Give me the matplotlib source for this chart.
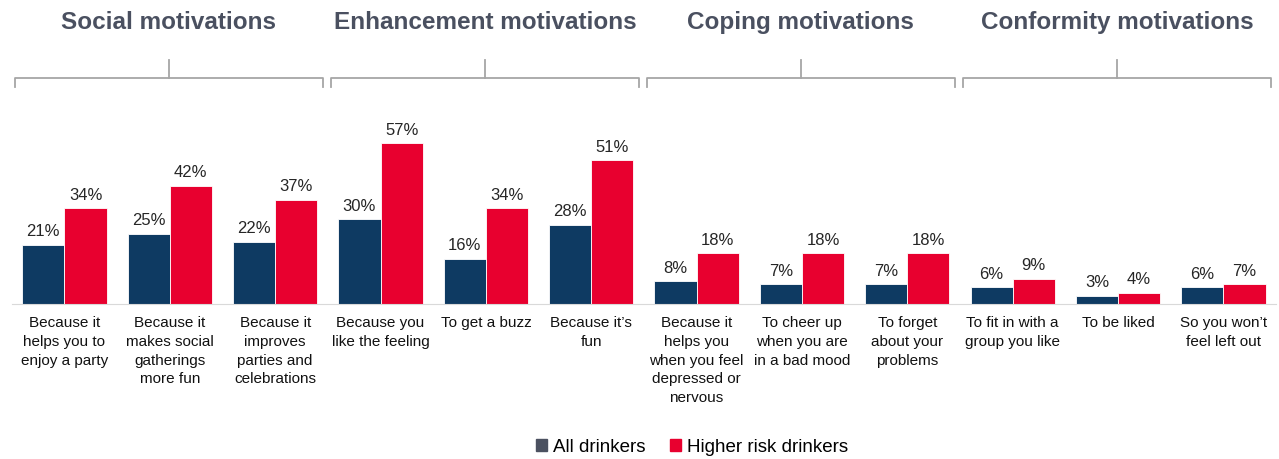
import matplotlib.pyplot as plt
import numpy as np
from matplotlib.patches import Patch
from matplotlib.transforms import blended_transform_factory

plt.rcParams['font.family'] = ['Liberation Sans', 'DejaVu Sans']

groups = ['Social motivations', 'Enhancement motivations',
          'Coping motivations', 'Conformity motivations']
labels = [
    'Because it\nhelps you to\nenjoy a party',
    'Because it\nmakes social\ngatherings\nmore fun',
    'Because it\nimproves\nparties and\ncelebrations',
    'Because you\nlike the feeling',
    'To get a buzz',
    'Because it\u2019s\nfun',
    'Because it\nhelps you\nwhen you feel\ndepressed or\nnervous',
    'To cheer up\nwhen you are\nin a bad mood',
    'To forget\nabout your\nproblems',
    'To fit in with a\ngroup you like',
    'To be liked',
    'So you won\u2019t\nfeel left out',
]
all_drinkers = [21, 25, 22, 30, 16, 28, 8, 7, 7, 6, 3, 6]
higher_risk = [34, 42, 37, 57, 34, 51, 18, 18, 18, 9, 4, 7]

NAVY = '#0e3a62'
RED = '#e8002f'
GREY_TXT = '#4a5060'

fig = plt.figure(figsize=(12.79, 4.59), dpi=100)
ax = fig.add_axes([0.0092, 0.3377, 0.9885, 0.3686])

x = np.arange(len(labels))
w = 0.40
b1 = ax.bar(x - w / 2, all_drinkers, w, color=NAVY, edgecolor='white', linewidth=0.6)
b2 = ax.bar(x + w / 2, higher_risk, w, color=RED, edgecolor='white', linewidth=0.6)

for bars in (b1, b2):
    for r in bars:
        ax.annotate(f'{int(r.get_height())}%',
                    (r.get_x() + r.get_width() / 2, r.get_height()),
                    xytext=(0, 4), textcoords='offset points',
                    ha='center', va='bottom', fontsize=12, color='#262626')

ax.set_xlim(-0.5, len(labels) - 0.5)
ax.set_ylim(0, 60)
ax.set_yticks([])
ax.set_xticks(x)
ax.set_xticklabels(labels, fontsize=11, linespacing=1.42, color='#111111')
ax.tick_params(axis='x', length=0, pad=9)
for s in ('top', 'right', 'left'):
    ax.spines[s].set_visible(False)
ax.spines['bottom'].set_color('#d9d9d9')

# group brackets and titles
tr = blended_transform_factory(ax.transData, fig.transFigure)
y_line, y_end, y_top, y_title = 0.830, 0.810, 0.869, 0.950
for i, g in enumerate(groups):
    x0, x1 = 3 * i - 0.47, 3 * i + 2.45
    xc = (x0 + x1) / 2
    ax.plot([x0, x0, x1, x1], [y_end, y_line, y_line, y_end], transform=tr,
            color='#a6a6a6', lw=1.3, clip_on=False, solid_joinstyle='round')
    ax.plot([xc, xc], [y_line, y_top], transform=tr, color='#a6a6a6', lw=1.3,
            clip_on=False)
    ax.text(xc, y_title, g, transform=tr, ha='center', va='center',
            fontsize=17.5, fontweight='bold', color=GREY_TXT)

handles = [Patch(color='#4b5160', label='All drinkers'),
           Patch(color=RED, label='Higher risk drinkers')]
fig.legend(handles=handles, loc='center', bbox_to_anchor=(692 / 1279, 1 - 447 / 459),
           ncol=2, frameon=False, fontsize=13.5, handlelength=0.6, handleheight=0.6,
           handletextpad=0.3, columnspacing=1.3)

fig.savefig('out.png', dpi=100)
